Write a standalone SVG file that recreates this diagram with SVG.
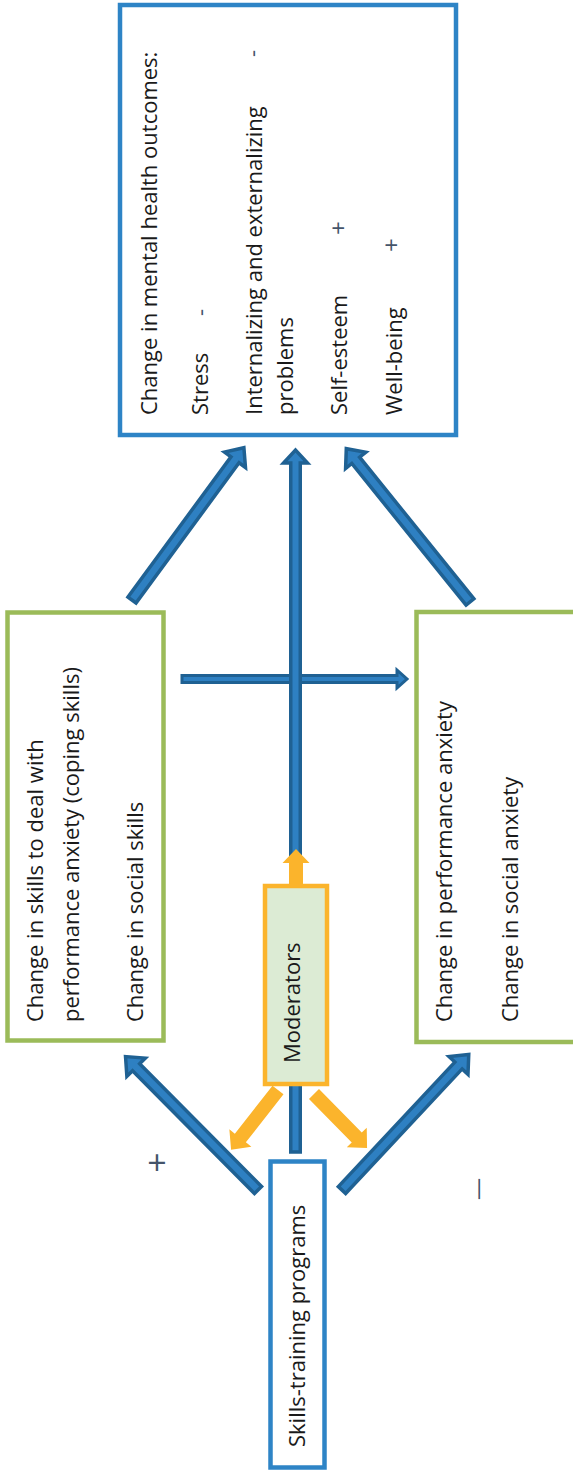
<svg xmlns="http://www.w3.org/2000/svg" width="573" height="1473" viewBox="0 0 573 1473">
<style>
.t{font-family:"Open Sans","Liberation Sans",sans-serif;font-size:22px;fill:#1a1a1a}
.s{font-family:"Open Sans","Liberation Sans",sans-serif;fill:#44546A}
.blue{fill:none;stroke:#2E84C6;stroke-width:4.5}
.green{fill:none;stroke:#9BBB59;stroke-width:4.5}
.arr{fill:#2E80C2;stroke:#1F6193;stroke-width:3.5;stroke-linejoin:miter}
.org{fill:#FBB42C}
</style>
<rect width="573" height="1473" fill="#ffffff"/>
<g id="connectors">
  <polygon class="arr" style="stroke-width:3" transform="translate(182,679)" points="0,-3.5 215,-3.5 215,-9 225,0 215,9 215,3.5 0,3.5"/>
  <polygon class="arr" transform="translate(295.5,1152) rotate(-90)" points="0,-4.75 689,-4.75 689,-12 702,0 689,12 689,4.75 0,4.75"/>
  <polygon class="arr" transform="translate(258,1190) rotate(-134.8)" points="0,-5 173,-5 173,-13 188,0 173,13 173,5 0,5"/>
  <polygon class="arr" transform="translate(342,1190) rotate(-46.9)" points="0,-5 170.5,-5 170.5,-13 185.5,0 170.5,13 170.5,5 0,5"/>
  <polygon class="arr" transform="translate(132,600) rotate(-53.7)" points="0,-5 174,-5 174,-13 189,0 174,13 174,5 0,5"/>
  <polygon class="arr" transform="translate(470,602) rotate(-128.9)" points="0,-5 182,-5 182,-13 197,0 182,13 182,5 0,5"/>
  <polygon class="org" transform="translate(296,884) rotate(-90)" points="0,-7 21,-7 21,-13.5 35,0 21,13.5 21,7 0,7"/>
  <polygon class="org" transform="translate(278,1090) rotate(128.1)" points="0,-7 61,-7 61,-14 76,0 61,14 61,7 0,7"/>
  <polygon class="org" transform="translate(314,1094) rotate(45.5)" points="0,-7 61,-7 61,-14 75.7,0 61,14 61,7 0,7"/>
</g>
<g id="outcomes">
  <rect class="blue" x="120" y="5" width="336" height="430"/>
  <text class="t" transform="translate(157,415) rotate(-90)">Change in mental health outcomes:</text>
  <text class="t" transform="translate(208,415) rotate(-90)">Stress</text>
  <text class="s" font-size="22" transform="translate(208,316) rotate(-90)">-</text>
  <text class="t" transform="translate(262,415) rotate(-90)">Internalizing and externalizing</text>
  <text class="s" font-size="22" transform="translate(260,57) rotate(-90)">-</text>
  <text class="t" transform="translate(293,415) rotate(-90)">problems</text>
  <text class="t" transform="translate(347,415) rotate(-90)">Self-esteem</text>
  <text class="s" font-size="24" transform="translate(347,235) rotate(-90)">+</text>
  <text class="t" transform="translate(402,415) rotate(-90)">Well-being</text>
  <text class="s" font-size="24" transform="translate(400,252) rotate(-90)">+</text>
</g>
<g id="skills-change">
  <rect class="green" x="7.5" y="612.5" width="156" height="428"/>
  <text class="t" transform="translate(43,1022) rotate(-90)">Change in skills to deal with</text>
  <text class="t" transform="translate(79,1022) rotate(-90)">performance anxiety (coping skills)</text>
  <text class="t" transform="translate(143,1022) rotate(-90)">Change in social skills</text>
</g>
<g id="anxiety-change">
  <rect class="green" x="416.5" y="612" width="170" height="430"/>
  <text class="t" transform="translate(452,1022) rotate(-90)">Change in performance anxiety</text>
  <text class="t" transform="translate(518,1022) rotate(-90)">Change in social anxiety</text>
</g>
<g id="moderators">
  <rect x="265" y="886" width="62" height="198" fill="#DCEBD4" stroke="#FBB42C" stroke-width="4.5"/>
  <text class="t" transform="translate(300,1063) rotate(-90)">Moderators</text>
</g>
<g id="programs">
  <rect class="blue" x="270.5" y="1161.5" width="54" height="306"/>
  <text class="t" transform="translate(305,1447) rotate(-90)">Skills-training programs</text>
</g>
<g id="signs">
  <text class="s" font-size="34" text-anchor="middle" x="157" y="1175">+</text>
  <text class="s" font-size="22" text-anchor="middle" transform="translate(485,1189) rotate(-90)">—</text>
</g>
</svg>
